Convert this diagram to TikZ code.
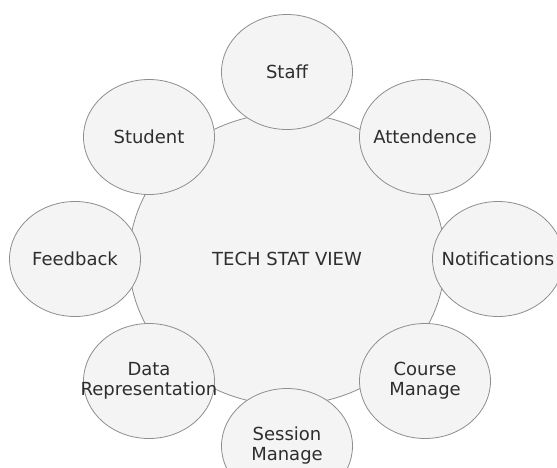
\documentclass[tikz,border=0pt]{standalone}
\usepackage{fontspec}
\setmainfont{DejaVu Sans}
\usepackage{tikz}
\usetikzlibrary{shapes.geometric}
\definecolor{bubblefill}{HTML}{F4F4F4}
\definecolor{bubbleline}{HTML}{8E8E8E}
\definecolor{bubbletext}{HTML}{2E2E2E}

\begin{document}
\begin{tikzpicture}[x=1pt,y=-1pt]%
\useasboundingbox[fill=white] (0,0) rectangle (557,467);
\tikzset{bubble/.style={shape=ellipse,draw=bubbleline,fill=bubblefill,line width=.8pt,
  inner xsep=-26pt,inner ysep=0pt,align=center,text=bubbletext,
  font=\fontsize{18}{20}\selectfont}}%
\node[bubble,minimum width=316pt,minimum height=292pt] (view) at (287,259) {TECH STAT VIEW}; %%
\begin{scope}[every node/.style={bubble,minimum width=131pt,minimum height=115pt}]%
\node (staff) at (287,72)  {Staff}; %%
\node (student) at (149,137)  {Student}; %%
\node (attend) at (425,137)  {Attendence}; %%
\node (feedback) at (75,259)  {Feedback}; %%
\node (notify) at (498,259)  {Notifications}; %%
\node (datarep) at (149,381)  {Data\\Representation}; %%
\node (course) at (425,381)  {Course\\Manage}; %%
\node (session) at (287,446)  {Session\\Manage}; %%
\end{scope}
\end{tikzpicture}
\end{document}
